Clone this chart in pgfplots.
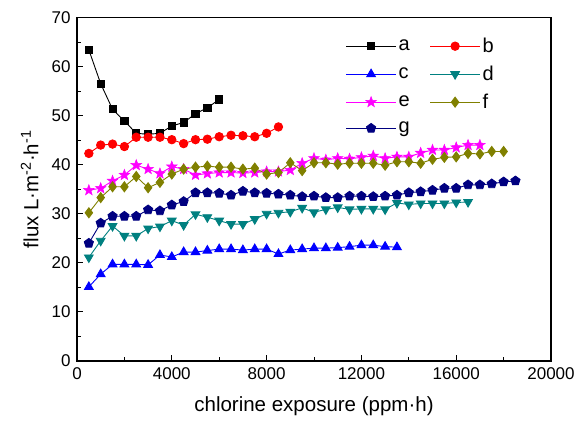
\documentclass[border=0pt]{standalone}
\usepackage{pgfplots}
\pgfplotsset{compat=1.18}
\usepackage{fontspec}
\setmainfont{Liberation Sans}

\definecolor{cA}{RGB}{0,0,0}
\definecolor{cB}{RGB}{255,0,0}
\definecolor{cC}{RGB}{0,0,255}
\definecolor{cD}{RGB}{0,128,128}
\definecolor{cE}{RGB}{255,0,255}
\definecolor{cF}{RGB}{128,128,0}
\definecolor{cG}{RGB}{0,0,128}

% filled five-pointed star
\pgfdeclareplotmark{fstar}{%
  \pgfpathmoveto{\pgfqpointpolar{90}{\pgfplotmarksize}}%
  \pgfpathlineto{\pgfqpointpolar{126}{0.42\pgfplotmarksize}}%
  \pgfpathlineto{\pgfqpointpolar{162}{\pgfplotmarksize}}%
  \pgfpathlineto{\pgfqpointpolar{198}{0.42\pgfplotmarksize}}%
  \pgfpathlineto{\pgfqpointpolar{234}{\pgfplotmarksize}}%
  \pgfpathlineto{\pgfqpointpolar{270}{0.42\pgfplotmarksize}}%
  \pgfpathlineto{\pgfqpointpolar{306}{\pgfplotmarksize}}%
  \pgfpathlineto{\pgfqpointpolar{342}{0.42\pgfplotmarksize}}%
  \pgfpathlineto{\pgfqpointpolar{18}{\pgfplotmarksize}}%
  \pgfpathlineto{\pgfqpointpolar{54}{0.42\pgfplotmarksize}}%
  \pgfpathclose
  \pgfusepathqfillstroke}

\begin{document}
\begin{tikzpicture}
\begin{axis}[
  name=ax,
  scale only axis,
  width=474pt, height=343.5pt,
  xmin=0, xmax=20000, ymin=0, ymax=70,
  xtick={0,4000,...,20000},
  ytick={0,10,...,70},
  minor x tick num=1,
  minor y tick num=1,
  tick align=inside,
  xtick pos=bottom, ytick pos=left,
  major tick length=6pt, minor tick length=3.5pt,
  axis line style={line width=1.2pt},
  every tick/.style={line width=1pt, black},
  scaled x ticks=false,
  /pgf/number format/assume math mode=true,
  /pgf/number format/1000 sep={},
  tick label style={font=\fontsize{17}{20}\selectfont},
  xticklabel style={yshift=-3pt},
  yticklabel style={xshift=-3pt},
  label style={font=\fontsize{20.5}{24}\selectfont},
  xlabel={chlorine exposure (ppm·h)},
  xlabel style={yshift=-10pt},
  ylabel={flux L·m\textsuperscript{-2}·h\textsuperscript{-1}},
  ylabel style={yshift=6pt},
  every axis plot/.append style={line width=0.9pt},
  legend columns=2,
  legend style={draw=none, fill=none, font=\fontsize{20}{24}\selectfont,
    at={(0.56,0.952)}, anchor=north west,
    /tikz/every even column/.append style={column sep=18pt},
    row sep=8pt},
  legend cell align=left,
  legend image code/.code={%
    \draw[mark repeat=2,mark phase=2]
      plot coordinates {(0pt,0pt) (25pt,0pt) (50pt,0pt)};},
]
\addplot[color=cA, mark=square*, mark size=3.6pt] table {
500 63.4
1000 56.5
1500 51.3
2000 48.9
2500 46.4
3000 46.2
3500 46.4
4000 47.9
4500 48.6
5000 50.4
5500 51.6
6000 53.3
};
\addlegendentry{a}
\addplot[color=cB, mark=*, mark size=4.2pt] table {
500 42.3
1000 44.0
1500 44.2
2000 43.7
2500 45.6
3000 45.6
3500 45.6
4000 45.1
4500 44.3
5000 45.1
5500 45.2
6000 45.7
6500 46.0
7000 45.9
7500 45.7
8000 46.4
8500 47.7
};
\addlegendentry{b}
\addplot[color=cC, mark=triangle*, mark size=5pt] table {
500 15.1
1000 17.7
1500 19.7
2000 19.7
2500 19.7
3000 19.6
3500 21.6
4000 21.2
4500 22.2
5000 22.2
5500 22.5
6000 22.8
6500 22.8
7000 22.6
7500 22.8
8000 22.8
8500 21.8
9000 22.6
9500 22.8
10000 23.0
10500 23.0
11000 23.1
11500 23.3
12000 23.6
12500 23.6
13000 23.3
13500 23.2
};
\addlegendentry{c}
\addplot[color=cD, mark=triangle*, mark options={rotate=180}, mark size=5pt] table {
500 21.1
1000 24.5
1500 27.5
2000 25.5
2500 25.5
3000 27.0
3500 27.4
4000 28.6
4500 27.7
5000 29.9
5500 29.3
6000 28.6
6500 27.9
7000 27.9
7500 28.9
8000 30.0
8500 30.2
9000 30.4
9500 31.2
10000 30.3
10500 30.9
11000 31.3
11500 30.9
12000 31.0
12500 31.0
13000 30.9
13500 32.2
14000 31.9
14500 32.1
15000 32.1
15500 32.1
16000 32.3
16500 32.4
};
\addlegendentry{d}
\addplot[color=cE, mark=fstar, mark options={fill=cE, line width=0.5pt}, mark size=5.6pt] table {
500 34.8
1000 35.2
1500 36.7
2000 37.9
2500 39.9
3000 39.1
3500 38.2
4000 39.6
4500 39.1
5000 37.9
5500 38.2
6000 38.4
6500 38.4
7000 38.3
7500 38.4
8000 38.6
8500 38.6
9000 38.9
9500 40.3
10000 41.3
10500 41.0
11000 41.3
11500 41.2
12000 41.5
12500 41.8
13000 41.3
13500 41.6
14000 41.6
14500 42.4
15000 43.0
15500 43.0
16000 43.5
16500 44.0
17000 44.0
};
\addlegendentry{e}
\addplot[color=cF, mark=diamond*, mark size=5pt] table {
500 30.2
1000 33.3
1500 35.5
2000 35.5
2500 37.6
3000 35.3
3500 36.4
4000 38.1
4500 39.1
5000 39.5
5500 39.7
6000 39.5
6500 39.5
7000 39.1
7500 39.3
8000 38.1
8500 38.4
9000 40.4
9500 38.8
10000 40.4
10500 40.4
11000 40.1
11500 40.3
12000 40.3
12500 40.3
13000 39.9
13500 40.6
14000 40.6
14500 40.3
15000 41.1
15500 41.5
16000 41.6
16500 42.3
17000 42.2
17500 42.7
18000 42.7
};
\addlegendentry{f}
\addplot[color=cG, mark=pentagon*, mark size=4.8pt] table {
500 24.0
1000 28.1
1500 29.5
2000 29.5
2500 29.5
3000 30.8
3500 30.6
4000 31.8
4500 32.5
5000 34.3
5500 34.3
6000 34.2
6500 33.8
7000 34.6
7500 34.3
8000 34.2
8500 34.0
9000 33.8
9500 33.5
10000 33.6
10500 33.3
11000 33.3
11500 33.6
12000 33.6
12500 33.5
13000 33.6
13500 33.8
14000 34.3
14500 34.5
15000 34.8
15500 35.2
16000 35.2
16500 35.9
17000 35.9
17500 36.1
18000 36.5
18500 36.7
};
\addlegendentry{g}
\end{axis}
\pgfresetboundingbox
\path[use as bounding box]
  ([shift={(-77pt,-60pt)}]ax.south west) rectangle ([shift={(35pt,17.5pt)}]ax.north east);
\end{tikzpicture}
\end{document}
